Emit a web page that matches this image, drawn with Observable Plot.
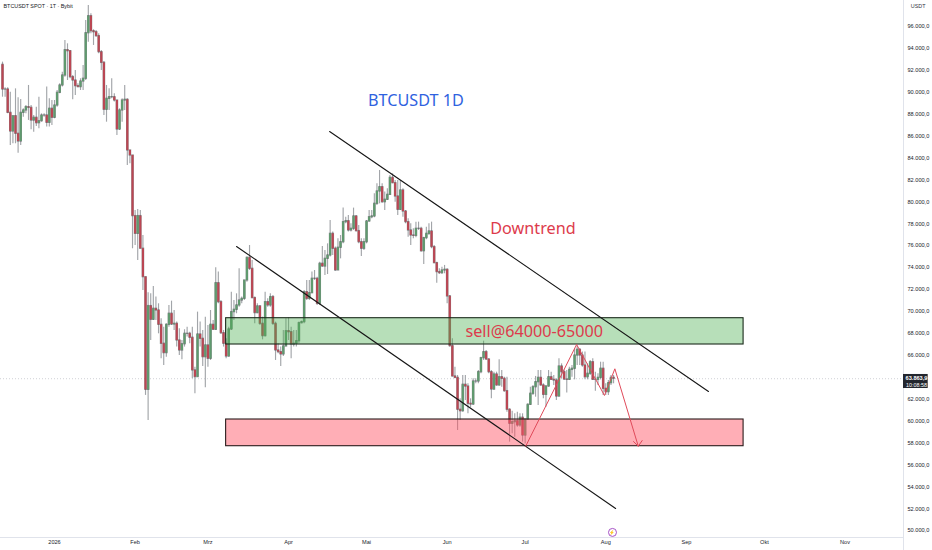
<!DOCTYPE html>
<html><head><meta charset="utf-8">
<script src="https://cdn.jsdelivr.net/npm/d3@7"></script>
<script src="https://cdn.jsdelivr.net/npm/@observablehq/plot@0.6"></script>
<style>html,body{margin:0;padding:0;background:#fff}svg{display:block}</style>
</head><body><div id="chart"></div>
<script>
const firstDay = "2025-12-12";
const firstOpen = 92500;
const closes = [90250,90250,88120,86420,87820,86210,85510,88120,88340,88640,88580,87420,87670,87180,87360,87880,87880,87210,88490,87670,88790,89950,90620,91530,93840,93750,91380,91070,90560,90470,90980,91230,95390,96940,95570,95480,95120,93660,92680,88400,89400,89550,89550,89250,86600,88340,89250,89310,
84690,84230,78700,77080,78700,75720,73130,62850,70490,69240,70240,70090,68780,67050,66200,68780,69790,68810,68870,67350,66440,67010,67960,67960,67600,64620,64010,67900,67500,65830,66900,65680,68780,68330,72580,70850,68020,67050,65890,68360,69940,70150,70550,71000,71150,72830,74890,73890,71220,69850,70460,68870,67750,70850,70550,71310,68870,66440,66290,66080,66810,68200,68110,66990,67050,67290,68930,69030,71760,
71150,71670,72980,72980,70700,74350,74100,74800,75110,77080,75720,73740,75810,76320,78150,78240,77390,77540,78670,77330,76320,75720,76320,78210,78600,78670,79820,80950,81340,79970,80190,80640,82190,81710,80490,79270,81040,79120,78150,77390,76930,76900,77540,77540,75500,76690,77080,77300,75870,74410,73590,73500,73740,73800,71370,66840,64070,
63940,61030,60900,63310,63150,61570,61510,63610,63610,64460,65740,66290,65620,64460,62880,64250,63250,64000,63850,62730,61030,59750,59900,59990,59600,60300,58680,60140,61480,62490,63090,63550,63940,63250,62390,63150,64000,63760,63700,62240,64980,64460,63790,63760,64670,64770,65980,66500,65980,65070,64000,64310,65370,63760,63760,63940,64770,62940,62640,63460,63940,63864];
const highs = [92750,90400,90400,90010,87820,90310,89490,89340,88490,88790,90620,88790,87880,88640,89550,88030,88030,90470,89400,89250,89250,90160,90770,91830,94720,94420,93810,91530,91990,90770,91230,92440,96550,97920,97160,95700,95640,95330,93810,92810,90620,90310,91230,89860,89250,88490,89400,90620,
89400,84690,84230,79210,79300,79210,76930,73130,71700,71610,72280,71310,70700,69330,68570,68870,70550,70940,70090,69030,68420,67350,68330,68570,68110,68570,64920,69940,69030,68270,69480,68720,70090,69180,73980,73590,71000,68270,67500,68570,71760,71000,71610,73890,71310,72830,74960,76020,74650,71310,70700,70550,69480,71760,71150,71610,71460,69030,67050,66750,68270,69330,69420,68570,68270,68270,69030,69120,71910,
72830,72830,73590,73740,73130,74500,75930,75560,76170,78300,77240,75870,76630,76930,79430,78600,78760,78000,79430,78760,77840,76630,76630,78300,79210,79210,80730,81650,82860,81650,80890,81190,82410,82560,81950,81950,81950,81190,79210,78450,78000,77540,78150,78150,77690,76780,77690,78000,78150,76020,74500,73890,74040,74200,73890,71460,67510,
64920,64160,62030,64160,64160,63400,62030,63850,63850,64610,65830,67290,66440,65680,64610,64460,64460,65590,64610,64000,64000,61120,60900,60660,60810,60660,60660,60140,61570,63090,63250,64070,64610,64610,63400,63250,64610,64460,64160,63850,65680,65220,64670,64610,64920,65070,66590,66800,66590,66290,66290,65220,65530,65680,64460,64310,65370,65370,63400,63700,64160,64160];
const lows = [89550,89550,88030,85140,85300,85300,84440,85140,87730,88030,87430,86570,86360,86880,86660,87270,87730,86820,86820,86970,87580,88640,89860,90470,91380,91070,91230,89310,89710,90410,90160,90160,91070,94570,95330,94270,95030,93510,91990,87880,87270,88340,89400,89100,86060,86510,87270,88340,
83320,83470,75720,76020,74650,75720,71910,62340,60050,67350,69180,69180,67960,65680,65070,65830,68570,68720,68270,66750,65980,65590,66750,67660,67050,63860,62490,64010,66750,64980,63040,64920,65530,68270,68270,70700,67900,66750,65680,65830,68270,69180,69790,70390,70700,71000,72670,73740,71150,68870,69790,68720,67410,67660,70390,70390,68720,65530,66140,64980,65890,66750,67350,65680,66750,66750,67050,68870,68870,
71000,71000,71610,72830,70550,70550,74040,73280,73370,74960,75110,73680,73740,74800,76170,78000,77240,77240,77390,77240,76170,75020,75560,76170,78150,78450,78540,79670,79820,79880,79210,80130,80580,81650,79970,78760,79210,78600,78000,76780,76020,76630,76720,77390,75410,74290,76540,76930,75720,74350,72580,73370,73370,73440,70700,66740,64010,
63850,59140,60050,60810,61880,60660,61210,61420,63400,63400,64310,65530,65530,64310,62030,62790,63180,63180,63090,62640,60810,58080,58840,58530,59440,59440,58080,57920,60050,61420,62330,62180,61420,63180,62030,61270,63090,63700,63250,61880,62180,63850,63700,62550,63700,64000,63760,65070,65070,64920,63760,63760,64160,63700,62730,63250,63760,62330,62330,62330,63250,63400];

const monthTicks = ["2026-01-01","2026-02-01","2026-03-01","2026-04-01","2026-05-01","2026-06-01","2026-07-01","2026-08-01","2026-09-01","2026-10-01","2026-11-01"];
const monthLabels = ["2026","Feb","Mrz","Apr","Mai","Jun","Jul","Aug","Sep","Okt","Nov"];
const priceTicks = [50000,52000,54000,56000,58000,60000,62000,66000,68000,70000,72000,74000,76000,78000,80000,82000,84000,86000,88000,90000,92000,94000,96000];
const greenZone = {x1:"2026-03-08T00:00Z", x2:"2026-09-23T00:00Z", y1:66985, y2:69385};
const redZone = {x1:"2026-03-08T00:00Z", x2:"2026-09-23T00:00Z", y1:57706, y2:60142};
const channelUpperDates = ["2026-04-16T19:00Z","2026-09-09T12:00Z"], channelUpperPrices = [86420,62700];
const channelLowerDates = ["2026-03-12T00:00Z","2026-08-04T19:00Z"], channelLowerPrices = [75930,52020];
const forecastDates = ["2026-07-01T05:00Z","2026-07-20T19:00Z","2026-07-31T12:00Z","2026-08-04T12:00Z","2026-08-13T12:00Z"];
const forecastPrices = [57706,66985,62333,64768,57706];
const arrowDates = ["2026-08-11T16:00Z","2026-08-13T12:00Z","2026-08-15T00:00Z"];
const arrowPrices = [58130,57706,58220];

const D = s => new Date(s);
const days = closes.map((_, i) => d3.utcDay.offset(D(firstDay + "T00:00Z"), i));
const candles = closes.map((c, i) => ({date: days[i], open: i ? closes[i-1] : firstOpen, close: c, high: highs[i], low: lows[i]}));
const line = (ds, ps) => ds.map((d, i) => ({date: D(d), price: ps[i]}));
const xDomain = [D("2025-12-11T05:30Z"), D("2026-11-23T12:00Z")];
const yDomain = [49376, 98372];
const last = closes[closes.length - 1];
const loc = d3.formatLocale({decimal:",", thousands:".", grouping:[3], currency:["",""]});
const fmt = loc.format(",.1f");
const zone = z => [{x1:D(z.x1), x2:D(z.x2), y1:z.y1, y2:z.y2}];
const axisFont = {fontSize: 5.6, fill: "#20232b"};
const UP = "#5f9a6e", DOWN = "#bb4653", OUT = "#3c3f44";
const labelFont = {fontSize: 16.2, fontFamily: "'Noto Sans', sans-serif", text: d => d};

const chart = Plot.plot({
  width: 932, height: 550,
  marginLeft: 0, marginRight: 29, marginTop: 0, marginBottom: 13,
  style: {background: "#fff", fontFamily: "'Liberation Sans', sans-serif", overflow: "visible"},
  x: {type: "utc", domain: xDomain, range: [0, 903]},
  y: {domain: yDomain, range: [537, 0]},
  marks: [
    Plot.ruleY([last], {stroke: "#c4c6cc", strokeWidth: .8, strokeDasharray: "1,2"}),
    Plot.ruleX(candles, {x: "date", y1: "low", y2: "high", stroke: "#a2a5a9", strokeWidth: 1.15}),
    Plot.ruleX(candles, {x: "date", y1: d => Math.max(d.open, d.close) + 60, y2: d => Math.min(d.open, d.close) - 60, stroke: OUT, strokeOpacity: .55, strokeWidth: 2.6}),
    Plot.ruleX(candles, {x: "date", y1: "open", y2: "close", stroke: d => d.close >= d.open ? UP : DOWN, strokeWidth: 2.1}),
    Plot.rect(zone(greenZone), {x1:"x1", x2:"x2", y1:"y1", y2:"y2", fill:"#4caf50", fillOpacity:.4, stroke:"#1c2b1c", strokeWidth:1.1}),
    Plot.rect(zone(redZone), {x1:"x1", x2:"x2", y1:"y1", y2:"y2", fill:"#ff5264", fillOpacity:.47, stroke:"#2b1c1c", strokeWidth:1.1}),
    Plot.line(line(channelUpperDates, channelUpperPrices), {x:"date", y:"price", stroke:"#161616", strokeWidth:1.1}),
    Plot.line(line(channelLowerDates, channelLowerPrices), {x:"date", y:"price", stroke:"#161616", strokeWidth:1.1}),
    Plot.line(line(forecastDates, forecastPrices), {x:"date", y:"price", stroke:"#e04a5a", strokeWidth:1}),
    Plot.line(line(arrowDates, arrowPrices), {x:"date", y:"price", stroke:"#e04a5a", strokeWidth:1}),
    Plot.text(["BTCUSDT 1D"], {x:[D("2026-05-20T00:00Z")], y:[89200], fill:"#2f62e0", ...labelFont}),
    Plot.text(["Downtrend"], {x:[D("2026-07-04T00:00Z")], y:[77530], fill:"#dd3b4c", ...labelFont}),
    Plot.text(["sell@64000-65000"], {x:[D("2026-07-04T12:00Z")], y:[68150], fill:"#dd3b4c", ...labelFont}),
    Plot.axisY(priceTicks, {anchor:"right", tickSize:0, tickPadding:4, tickFormat:fmt, ...axisFont, textAnchor:"start", label:null}),
    Plot.axisX(monthTicks.map(D), {anchor:"bottom", tickSize:0, tickPadding:3, tickFormat:(d,i)=>monthLabels[i], ...axisFont, label:null}),
    Plot.ruleY([yDomain[0]], {stroke:"#e0e3eb", strokeWidth:1}),
    Plot.ruleX([xDomain[1]], {y1:yDomain[0]-1300, y2:yDomain[1], stroke:"#e0e3eb", strokeWidth:1}),
    Plot.dot([1], {x:()=>D("2026-08-03T14:00Z"), y:()=>49840, r:4, fill:"#fff", stroke:"#9c3fc0", strokeWidth:.9}),
    Plot.text(["⚡"], {x:[D("2026-08-03T14:00Z")], y:[49840], text:d=>d, fill:"#9c3fc0", fontSize:4.5}),
    Plot.text(["BTCUSDT SPOT · 1T · Bybit"], {frameAnchor:"top-left", dx:3, dy:4, text:d=>d, fontSize:5.4, fill:"#131722", fontWeight:500}),
    Plot.text(["USDT"], {frameAnchor:"top-right", dx:22, dy:4, text:d=>d, fontSize:5.4, fill:"#30343e"}),
    Plot.rect([1], {x1:()=>xDomain[1], x2:()=>D("2026-12-03T00:00Z"), y1:()=>62970, y2:()=>64250, fill:"#23262e"}),
    Plot.text(["63.863,9"], {x:()=>D("2026-11-28T12:00Z"), y:()=>63880, text:d=>d, fill:"#fff", fontSize:5.6, fontWeight:"bold"}),
    Plot.text(["10:08:58"], {x:()=>D("2026-11-28T12:00Z"), y:()=>63300, text:d=>d, fill:"#fff", fontSize:5.4})
  ]
});
document.getElementById("chart").append(chart);
</script></body></html>
